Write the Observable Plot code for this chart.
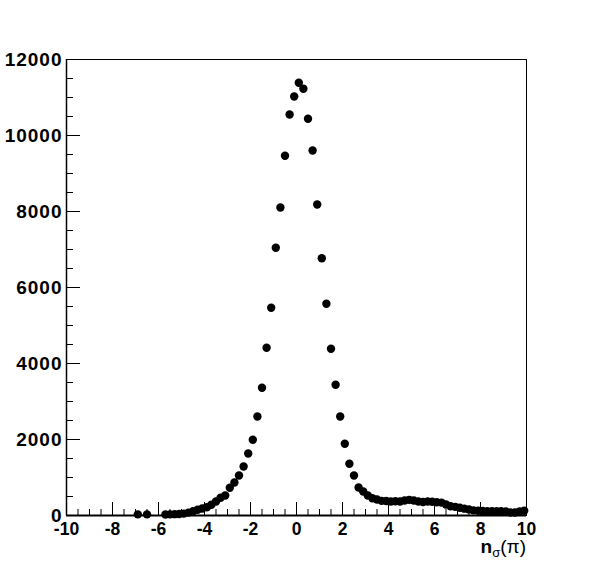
<!DOCTYPE html>
<html>
<head>
<meta charset="utf-8">
<script src="https://cdn.jsdelivr.net/npm/d3@7"></script>
<script src="https://cdn.jsdelivr.net/npm/@observablehq/plot@0.6"></script>
<style>
  html, body { margin: 0; padding: 0; background: white; }
</style>
</head>
<body>
<div id="chart"></div>
<script>
// Bin centers (non-empty bins) of n_sigma(pi) histogram, bin width 0.2
const binCenters = [
  -6.9, -6.5,
  -5.7, -5.5, -5.3, -5.1, -4.9, -4.7, -4.5, -4.3, -4.1, -3.9,
  -3.7, -3.5, -3.3, -3.1, -2.9, -2.7, -2.5, -2.3, -2.1, -1.9,
  -1.7, -1.5, -1.3, -1.1, -0.9, -0.7, -0.5, -0.3, -0.1, 0.1,
  0.3, 0.5, 0.7, 0.9, 1.1, 1.3, 1.5, 1.7, 1.9, 2.1,
  2.3, 2.5, 2.7, 2.9, 3.1, 3.3, 3.5, 3.7, 3.9, 4.1,
  4.3, 4.5, 4.7, 4.9, 5.1, 5.3, 5.5, 5.7, 5.9, 6.1,
  6.3, 6.5, 6.7, 6.9, 7.1, 7.3, 7.5, 7.7, 7.9, 8.1,
  8.3, 8.5, 8.7, 8.9, 9.1, 9.3, 9.5, 9.7, 9.9
];
const counts = [
  30, 30,
  25, 30, 35, 40, 50, 75, 113, 150, 184, 218,
  282, 368, 466, 526, 729, 868, 1053, 1289, 1631, 1992,
  2605, 3361, 4413, 5466, 7045, 8105, 9466, 10553, 11026, 11387,
  11229, 10439, 9605, 8184, 6771, 5571, 4387, 3439, 2605, 1887,
  1360, 1053, 737, 632, 526, 455, 420, 386, 380, 370,
  375, 368, 395, 412, 395, 370, 355, 368, 360, 350,
  340, 290, 245, 228, 205, 180, 160, 135, 125, 120,
  114, 110, 112, 110, 105, 80, 78, 105, 125
];
const xMajorTicks = [-10, -8, -6, -4, -2, 0, 2, 4, 6, 8, 10];
const xMinorTicks = [-9.5, -9, -8.5, -7.5, -7, -6.5, -5.5, -5, -4.5, -3.5, -3, -2.5,
  -1.5, -1, -0.5, 0.5, 1, 1.5, 2.5, 3, 3.5, 4.5, 5, 5.5, 6.5, 7, 7.5, 8.5, 9, 9.5];
const yMajorTicks = [0, 2000, 4000, 6000, 8000, 10000, 12000];
const yMinorTicks = [500, 1000, 1500, 2500, 3000, 3500, 4500, 5000, 5500, 6500, 7000, 7500,
  8500, 9000, 9500, 10500, 11000, 11500];
const xTitle = {main: "n", sub: "σ", rest: "(π)"};

const data = binCenters.map((x, i) => ({x, y: counts[i]}));

const W = 596, H = 572;
const mL = 66, mR = 70, mT = 59, mB = 57;
const plotW = W - mL - mR, plotH = H - mT - mB;
const font = "'Liberation Sans', Arial, Helvetica, sans-serif";

const chart = Plot.plot({
  width: W,
  height: H,
  marginLeft: mL,
  marginRight: mR,
  marginTop: mT,
  marginBottom: mB,
  x: {domain: [-10, 10]},
  y: {domain: [0, 12000]},
  style: {fontFamily: font, background: "white", color: "black"},
  marks: [
    Plot.frame({stroke: "black", strokeWidth: 1}),
    Plot.tickX(xMinorTicks, {x: d => d, insetTop: plotH - 6, stroke: "black"}),
    Plot.tickX(xMajorTicks, {x: d => d, insetTop: plotH - 13, stroke: "black"}),
    Plot.tickY(yMinorTicks, {y: d => d, insetRight: plotW - 7, stroke: "black"}),
    Plot.tickY(yMajorTicks, {y: d => d, insetRight: plotW - 14, stroke: "black"}),
    Plot.ruleY([0], {stroke: "black", strokeWidth: 2}),
    Plot.ruleX([-10], {stroke: "black", strokeWidth: 1.5}),
    Plot.axisX({ticks: xMajorTicks, tickSize: 0, tickPadding: 7, fontSize: 17.5, fontWeight: "bold",
      tickFormat: d => String(d), label: null}),
    Plot.axisY({ticks: yMajorTicks, tickSize: 0, tickPadding: 4, fontSize: 19, fontWeight: "bold",
      tickFormat: d => String(d), label: null, className: "yax"}),
    Plot.dot(data, {x: "x", y: "y", r: 4.2, fill: "black", stroke: "none"})
  ]
});

const svg = d3.select(chart);
svg.selectAll("g[aria-label='y-axis tick label'] text").attr("letter-spacing", "1px");
const t = svg.append("text")
  .attr("x", 526)
  .attr("y", 553)
  .attr("text-anchor", "end")
  .attr("font-family", font)
  .attr("font-size", 19)
  .attr("font-weight", "bold")
  .attr("fill", "black");
t.append("tspan").text(xTitle.main);
t.append("tspan").attr("font-size", 13).attr("font-weight", "normal").attr("dy", 4).text(xTitle.sub);
t.append("tspan").attr("dy", -4).attr("font-weight", "normal").text(xTitle.rest);

document.getElementById("chart").appendChild(chart);
</script>
</body>
</html>
